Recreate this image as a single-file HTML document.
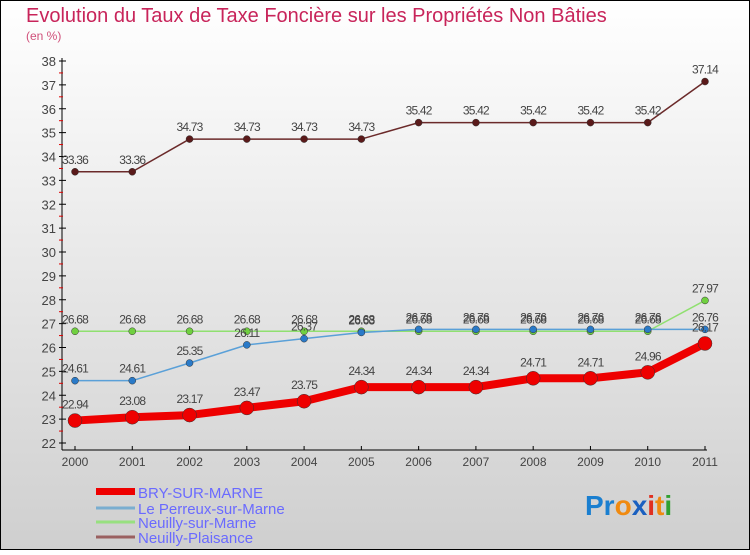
<!DOCTYPE html>
<html><head><meta charset="utf-8"><style>
body{margin:0}
#c{width:750px;height:550px;position:relative;font-family:"Liberation Sans",sans-serif}
</style></head><body>
<div id="c">
<svg id="s" width="750" height="550" xmlns="http://www.w3.org/2000/svg">
<defs><linearGradient id="bg" x1="0" y1="0" x2="0" y2="1"><stop offset="0" stop-color="#ffffff"/><stop offset="1" stop-color="#cfcfcf"/></linearGradient></defs>
<rect x="0.5" y="0.5" width="749" height="549" fill="url(#bg)" stroke="#000"/>
<text x="26" y="22" font-size="20" fill="#c8245a">Evolution du Taux de Taxe Foncière sur les Propriétés Non Bâties</text>
<text x="26" y="40" font-size="12" fill="#d0507a">(en %)</text>
<text x="585" y="515" font-size="28" font-weight="bold"><tspan fill="#1a7fd0">Pr</tspan><tspan fill="#f08a10">o</tspan><tspan fill="#1a60c0">x</tspan><tspan fill="#e03020">i</tspan><tspan fill="#f08a10">t</tspan><tspan fill="#30a030">i</tspan></text>
</svg>
</div>
<script>
const years=["2000","2001","2002","2003","2004","2005","2006","2007","2008","2009","2010","2011"];
const yTicks=[22,23,24,25,26,27,28,29,30,31,32,33,34,35,36,37,38];
const bry=[22.94,23.08,23.17,23.47,23.75,24.34,24.34,24.34,24.71,24.71,24.96,26.17];
const perreux=[24.61,24.61,25.35,26.11,26.37,26.63,26.76,26.76,26.76,26.76,26.76,26.76];
const neuillyM=[26.68,26.68,26.68,26.68,26.68,26.68,26.68,26.68,26.68,26.68,26.68,27.97];
const neuillyP=[33.36,33.36,34.73,34.73,34.73,34.73,35.42,35.42,35.42,35.42,35.42,37.14];
const names=["BRY-SUR-MARNE","Le Perreux-sur-Marne","Neuilly-sur-Marne","Neuilly-Plaisance"];
const NS="http://www.w3.org/2000/svg",s=document.getElementById('s');
const X=i=>75+i*(630/11), Y=v=>443-(v-22)*(382/16);
function el(t,a,p){const e=document.createElementNS(NS,t);for(const k in a)e.setAttribute(k,a[k]);(p||s).appendChild(e);return e;}
const ax=el('g',{});


el('line',{x1:62,y1:58,x2:62,y2:450,stroke:'#000'},ax);
el('line',{x1:62,y1:450,x2:707,y2:450,stroke:'#000'},ax);
yTicks.forEach(v=>{
 el('line',{x1:59,y1:Y(v),x2:66,y2:Y(v),stroke:'#000'},ax);
 if(v<38)el('line',{x1:59,y1:Y(v+0.5),x2:63,y2:Y(v+0.5),stroke:'#d00'},ax);
 const t=el('text',{x:56,y:Y(v)+5,'font-size':13,fill:'#444','text-anchor':'end'},ax);t.textContent=v;
 
 
});
years.forEach((y,i)=>{
 el('line',{x1:X(i),y1:446,x2:X(i),y2:450,stroke:'#000'},ax);
 const t=el('text',{x:X(i),y:466,'font-size':12,fill:'#444','text-anchor':'middle'},ax);t.textContent=y;
 
 
});
const series=[[neuillyP,'#6b2a2a','#5a1a1a',1.5,3.5],[neuillyM,'#90e070','#70d040',1.5,3.5],[perreux,'#5aa0d8','#2a7ac8',1.5,3.5],[bry,'#ee0000','#ee0000',8,7]];
const snames=['neuilly-plaisance','neuilly-sur-marne','le-perreux-sur-marne','bry-sur-marne'];
series.forEach((sr,k)=>{
 const g=el('g',{});
 
 
 el('polyline',{points:sr[0].map((v,i)=>X(i)+','+Y(v)).join(' '),fill:'none',stroke:sr[1],'stroke-width':sr[3],'stroke-linejoin':'round'},g);
 sr[0].forEach((v,i)=>{
  const c=el('circle',{cx:X(i),cy:Y(v),r:sr[4],fill:sr[2],stroke:'#333','stroke-width':0.5},g);
  
  
  const t=el('text',{x:X(i),y:Y(v)-(k==3?12:8),'font-size':12,fill:'#444','text-anchor':'middle','letter-spacing':'-0.8'},g);
  t.textContent=v.toFixed(2);
  
  
 });
});
const cols=['#ee0000','#7aaed0','#98e080','#9a6060'];
names.forEach((n,i)=>{
 const y=[492,508,522,537][i];
 const g=el('g',{});
 
 
 el('rect',{x:96,y:y-(i==0?4:1.5),width:39,height:i==0?7:3,fill:cols[i]},g);
 const t=el('text',{x:138,y:y+6,'font-size':15,fill:'#6a6aff'},g);t.textContent=n;
});
</script>
</body></html>
